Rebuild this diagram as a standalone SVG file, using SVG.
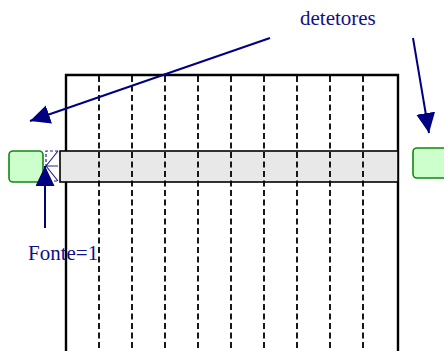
<svg xmlns="http://www.w3.org/2000/svg" width="444" height="351" viewBox="0 0 444 351">
<style>
.txt{font-family:"Liberation Serif","Times New Roman",serif;font-size:21px;fill:#10108a}
.arrow{stroke:#000080;stroke-width:2;fill:none;marker-end:url(#ah)}
.det{fill:#ccffcc;stroke:#118811;stroke-width:1.6}
.dash{stroke:#000;stroke-width:1.8;stroke-dasharray:6 3.5}
</style>
<defs>
<marker id="ah" markerUnits="userSpaceOnUse" markerWidth="22" markerHeight="20" refX="20" refY="9.5" orient="auto">
<path d="M0,0 L20,9.5 L0,19 Z" fill="#000080"/>
</marker>
</defs>
<g id="frame">
<path d="M66,351 V75 H398 V351" fill="none" stroke="#000" stroke-width="2.4"/>
</g>
<g id="band">
<rect x="60" y="151" width="338" height="31" fill="#e8e8e8" stroke="#000" stroke-width="1.6"/>
</g>
<g id="strips">
<line class="dash" x1="99" y1="76" x2="99" y2="351"/>
<line class="dash" x1="132" y1="76" x2="132" y2="351"/>
<line class="dash" x1="165" y1="76" x2="165" y2="351"/>
<line class="dash" x1="198" y1="76" x2="198" y2="351"/>
<line class="dash" x1="231" y1="76" x2="231" y2="351"/>
<line class="dash" x1="264" y1="76" x2="264" y2="351"/>
<line class="dash" x1="297" y1="76" x2="297" y2="351"/>
<line class="dash" x1="330" y1="76" x2="330" y2="351"/>
<line class="dash" x1="363" y1="76" x2="363" y2="351"/>
</g>
<g id="detector-left">
<rect class="det" x="9" y="151" width="34" height="31" rx="4"/>
</g>
<g id="detector-right">
<rect class="det" x="413" y="148" width="36" height="30" rx="4"/>
</g>
<g id="source">
<path d="M58,151 H46 V181 H58" fill="none" stroke="#2222a0" stroke-width="1.2" stroke-dasharray="3 2"/>
<path d="M46,166 L58,151 M46,166 L58,166 M46,166 L58,181" fill="none" stroke="#2222a0" stroke-width="1.2"/>
</g>
<g id="connectors">
<line class="arrow" x1="270" y1="38" x2="30" y2="121"/>
<line class="arrow" x1="413" y1="38" x2="429" y2="133"/>
<line class="arrow" x1="45" y1="228" x2="45" y2="166"/>
</g>
<g id="labels">
<text class="txt" x="300" y="25">detetores</text>
<text class="txt" x="28" y="260">Fonte=1</text>
</g>
</svg>
